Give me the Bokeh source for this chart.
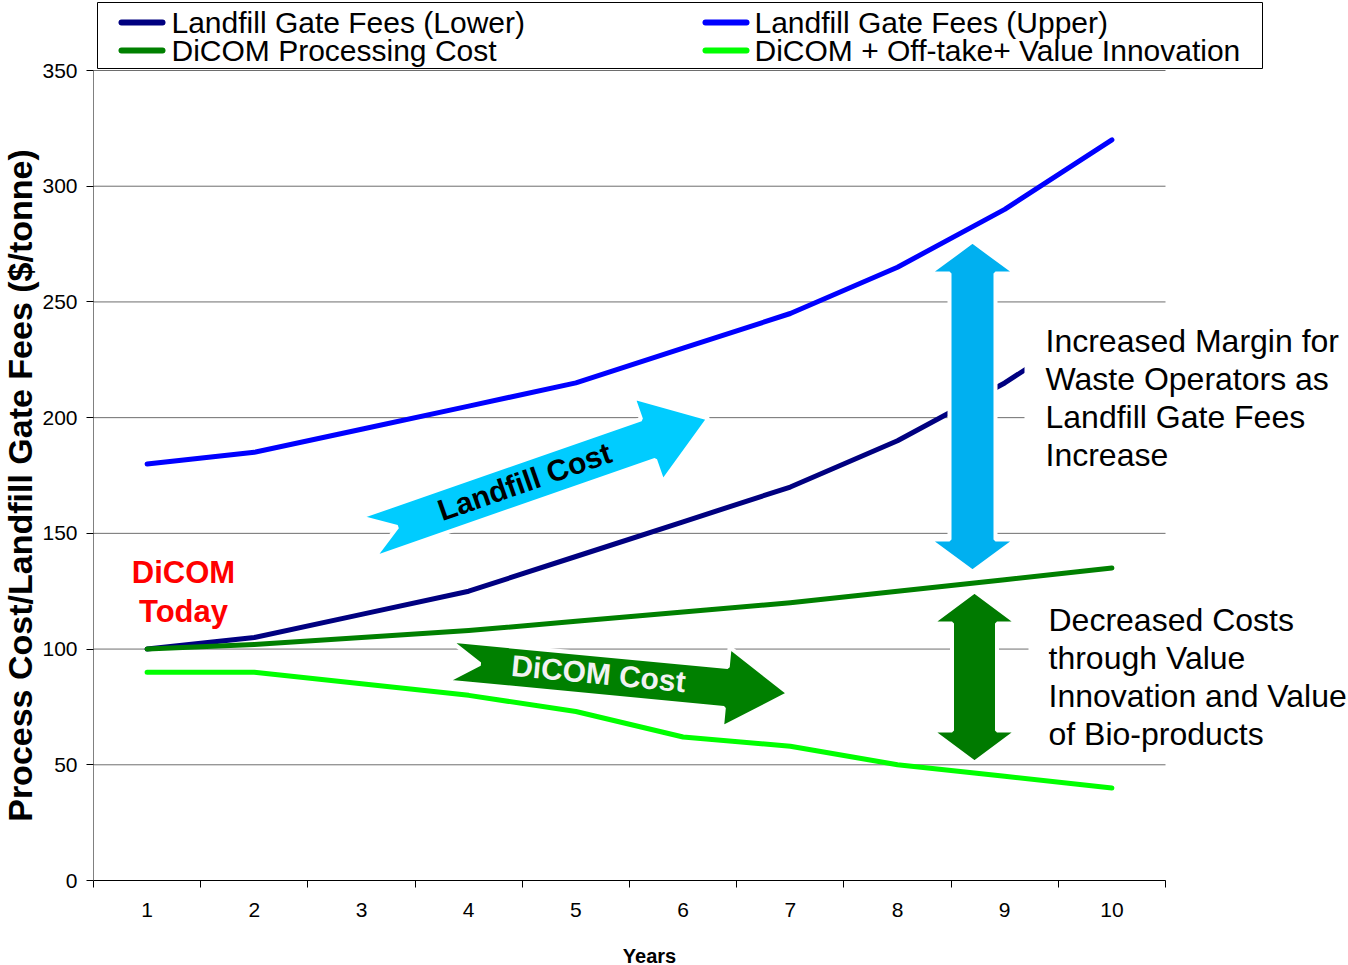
import math
from bokeh.plotting import figure
from bokeh.models import Range1d, FixedTicker, Label, BoxAnnotation
from bokeh.embed import file_html
from bokeh.resources import INLINE

# ---------------- data ----------------
years = [1, 2, 3, 4, 5, 6, 7, 8, 9, 10]
landfill_lower = [100, 105, 115, 125, 140, 155, 170, 190, 215, 245]
landfill_upper = [180, 185, 195, 205, 215, 230, 245, 265, 290, 320]
dicom_processing = [100, 102, 105, 108, 112, 116, 120, 125, 130, 135]
dicom_value_innovation = [90, 90, 85, 80, 73, 62, 58, 50, 45, 40]
y_ticks = [0, 50, 100, 150, 200, 250, 300, 350]

series_names = ["Landfill Gate Fees (Lower)", "Landfill Gate Fees (Upper)",
                "DiCOM Processing Cost", "DiCOM + Off-take+ Value Innovation"]
series_colors = ["#000080", "#0000FF", "#008000", "#00FF00"]
x_title = "Years"
y_title = "Process Cost/Landfill Gate Fees ($/tonne)"

FONT = "Liberation Sans"

# ---------------- layout geometry (pixels) ----------------
W, H = 1348, 965
FL, FR, FT, FB = 93, 1165, 70, 880      # plotting area inside the canvas
X0, X1 = 0.5, 10.5
Y0, Y1 = 0, 350


def dx(px):
    return X0 + (px - FL) * (X1 - X0) / (FR - FL)


def dy(py):
    return Y0 + (FB - py) * (Y1 - Y0) / (FB - FT)


# the frame spans the whole canvas so that annotations outside the axes area are not clipped;
# the axes are pinned at the edges of the plotting area
p = figure(width=W, height=H, x_range=Range1d(dx(0), dx(W)), y_range=Range1d(dy(H), dy(0)),
           output_backend="svg", toolbar_location=None, min_border=0)
p.outline_line_color = None
p.background_fill_color = "white"
p.border_fill_color = "white"
p.xgrid.visible = False
p.ygrid.visible = False

# x axis
xa = p.xaxis[0]
xa.fixed_location = Y0
xa.bounds = (X0, X1)
xa.ticker = FixedTicker(ticks=years, minor_ticks=[i + 0.5 for i in range(0, 11)])
xa.major_tick_out = 0
xa.major_tick_in = 0
xa.minor_tick_out = 7
xa.minor_tick_in = 0
xa.minor_tick_line_color = "black"
xa.axis_line_color = "black"
xa.major_label_text_font = FONT
xa.major_label_text_font_size = "21px"
xa.major_label_text_color = "black"
xa.major_label_standoff = 15

# y axis
ya = p.yaxis[0]
ya.fixed_location = X0
ya.bounds = (Y0, Y1)
ya.ticker = FixedTicker(ticks=y_ticks, minor_ticks=[])
ya.major_tick_out = 7
ya.major_tick_in = 0
ya.major_tick_line_color = "black"
ya.minor_tick_out = 0
ya.minor_tick_in = 0
ya.axis_line_color = "#808080"
ya.major_label_text_font = FONT
ya.major_label_text_font_size = "21px"
ya.major_label_text_color = "black"
ya.major_label_standoff = 9

# axis titles
p.add_layout(Label(x=dx(649), y=dy(955), text=x_title, text_font=FONT, text_font_style="bold",
                   text_font_size="20px", text_color="black",
                   text_align="center", text_baseline="middle"))
p.add_layout(Label(x=dx(19), y=dy(485), text=y_title, text_font=FONT, text_font_style="bold",
                   text_font_size="34px", text_color="black",
                   text_align="center", text_baseline="middle",
                   angle=math.pi / 2, angle_units="rad"))

# horizontal gridlines limited to the plotting area
p.segment(x0=[X0] * len(y_ticks), x1=[X1] * len(y_ticks), y0=y_ticks, y1=y_ticks,
          line_color="#6e6e6e", line_width=1)

# ---------------- series ----------------
for vals, col in zip([landfill_lower, landfill_upper, dicom_processing, dicom_value_innovation],
                     series_colors):
    p.line(years, vals, line_color=col, line_width=5, line_join="round", line_cap="round")


# ---------------- arrow decorations ----------------
def notched_arrow(tail, tip, shaft_w, head_w, head_len, notch):
    tx, ty = tail
    px_, py_ = tip
    L = math.hypot(px_ - tx, py_ - ty)
    ux, uy = (px_ - tx) / L, (py_ - ty) / L
    nx, ny = -uy, ux
    bx, by = px_ - ux * head_len, py_ - uy * head_len
    pts = [
        (tx + nx * shaft_w / 2, ty + ny * shaft_w / 2),
        (bx + nx * shaft_w / 2, by + ny * shaft_w / 2),
        (bx + nx * head_w / 2, by + ny * head_w / 2),
        (px_, py_),
        (bx - nx * head_w / 2, by - ny * head_w / 2),
        (bx - nx * shaft_w / 2, by - ny * shaft_w / 2),
        (tx - nx * shaft_w / 2, ty - ny * shaft_w / 2),
        (tx + ux * notch, ty + uy * notch),
    ]
    return [dx(a) for a, _ in pts], [dy(b) for _, b in pts]


def double_arrow(cx, top, bot, shaft_w, head_w, head_len):
    pts = [
        (cx, top), (cx + head_w / 2, top + head_len), (cx + shaft_w / 2, top + head_len),
        (cx + shaft_w / 2, bot - head_len), (cx + head_w / 2, bot - head_len), (cx, bot),
        (cx - head_w / 2, bot - head_len), (cx - shaft_w / 2, bot - head_len),
        (cx - shaft_w / 2, top + head_len), (cx - head_w / 2, top + head_len),
    ]
    return [dx(a) for a, _ in pts], [dy(b) for _, b in pts]


lf_tail, lf_tip = (366.5, 537), (708, 418)
dc_tail, dc_tip = (447.5, 660.5), (788, 693)
shapes = [
    notched_arrow(lf_tail, lf_tip, 43, 89, 64, 32),
    notched_arrow(dc_tail, dc_tip, 41, 81, 63, 32),
    double_arrow(972, 241, 571, 46, 87, 32),
    double_arrow(974, 591, 762, 45, 86, 32),
]
p.patches([s[0] for s in shapes], [s[1] for s in shapes],
          fill_color=["#00CCFF", "#008000", "#00B0F0", "#007A00"],
          line_color="white", line_width=4)

# white boxes behind the explanatory texts
p.add_layout(BoxAnnotation(left=dx(1024), right=dx(1348), top=dy(306), bottom=dy(505),
                           fill_color="white", fill_alpha=1, line_color=None))
p.add_layout(BoxAnnotation(left=dx(1028), right=dx(1348), top=dy(585), bottom=dy(756),
                           fill_color="white", fill_alpha=1, line_color=None))

# ---------------- legend (drawn above the plotting area) ----------------
p.add_layout(BoxAnnotation(left=dx(97), right=dx(1262), top=dy(2), bottom=dy(68),
                           fill_color="white", fill_alpha=1, line_color="black",
                           line_alpha=1, line_width=1))
leg_pos = [(118, 171, 22), (702, 754, 22), (118, 171, 50), (702, 754, 50)]
for (sx, tx, cy), idx in zip(leg_pos, range(4)):
    p.add_layout(BoxAnnotation(left=dx(sx), right=dx(sx + 47), top=dy(cy - 3), bottom=dy(cy + 3),
                               fill_color=series_colors[idx], fill_alpha=1, line_color=None,
                               border_radius=3))
    p.add_layout(Label(x=dx(tx), y=dy(cy), text=series_names[idx], text_font=FONT,
                       text_font_size="30px", text_color="black",
                       text_align="left", text_baseline="middle"))


# ---------------- text annotations ----------------
def angle_of(tail, tip):
    return math.atan2(-(tip[1] - tail[1]), tip[0] - tail[0])


p.add_layout(Label(x=dx(524), y=dy(481), text="Landfill Cost", text_font=FONT,
                   text_font_style="bold", text_font_size="30px", text_color="black",
                   text_align="center", text_baseline="middle",
                   angle=angle_of(lf_tail, lf_tip), angle_units="rad"))
p.add_layout(Label(x=dx(598), y=dy(673), text="DiCOM Cost", text_font=FONT,
                   text_font_style="bold", text_font_size="30px", text_color="#F2F2F2",
                   text_align="center", text_baseline="middle",
                   angle=angle_of(dc_tail, dc_tip), angle_units="rad"))

for txt, cy in [("DiCOM", 572), ("Today", 611)]:
    p.add_layout(Label(x=dx(183), y=dy(cy), text=txt, text_font=FONT, text_font_style="bold",
                       text_font_size="31px", text_color="#FF0000",
                       text_align="center", text_baseline="middle"))

p.add_layout(Label(x=dx(1045), y=dy(397.5),
                   text="Increased Margin for\nWaste Operators as\nLandfill Gate Fees\nIncrease",
                   text_font=FONT, text_font_size="32px", text_color="black",
                   text_align="left", text_baseline="middle", text_line_height=1.06))
p.add_layout(Label(x=dx(1048), y=dy(676.5),
                   text="Decreased Costs\nthrough Value\nInnovation and Value\nof Bio-products",
                   text_font=FONT, text_font_size="32px", text_color="black",
                   text_align="left", text_baseline="middle", text_line_height=1.06))

open("out.html", "w").write(file_html(p, INLINE))
